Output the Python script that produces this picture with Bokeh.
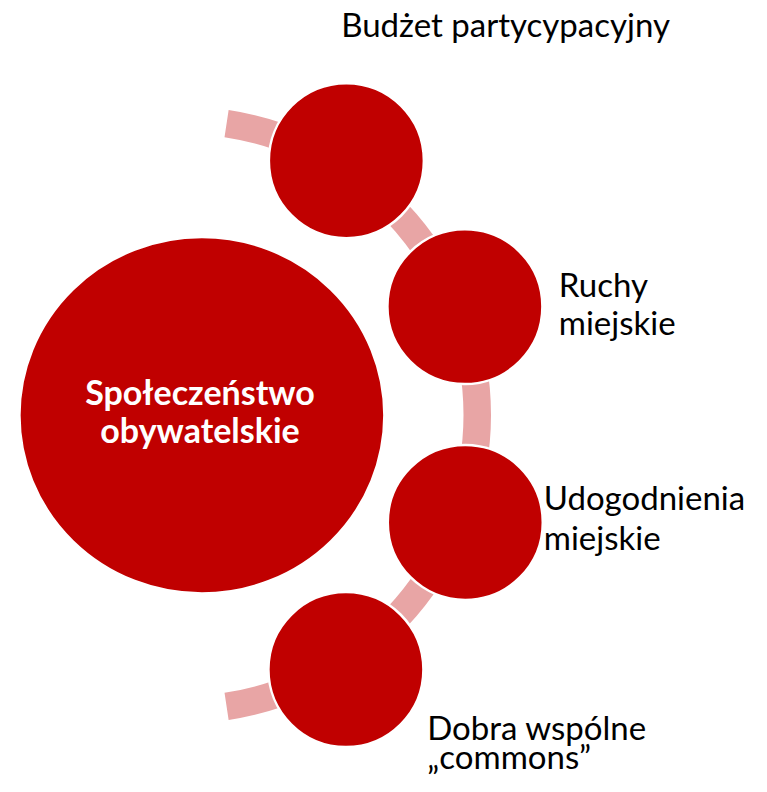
import numpy as np
from bokeh.plotting import figure
from bokeh.models import Range1d, ColumnDataSource
from bokeh.core.properties import value
from bokeh.embed import file_html
from bokeh.resources import INLINE

# ---------------- content ----------------
center_label = ["Społeczeństwo", "obywatelskie"]
item_labels = [
    ["Budżet partycypacyjny"],
    ["Ruchy", "miejskie"],
    ["Udogodnienia", "miejskie"],
    ["Dobra wspólne", "„commons”"],
]
item_angles = [57.2, 21.0, -20.8, -57.3]  # position of each item on the arc (deg)

# ---------------- layout (picture pixel geometry) ----------------
W, H = 751, 776
PAGE_H = 792
TEXT_SHIFT = 14.0  # rendered text sits lower than its anchor by about this much

def Y(py):
    return PAGE_H - py

arc_cx, arc_cy = 182.0, Y(414.5)
ring_r = 302.5
arc_inner, arc_outer = 281.0, 308.5
arc_extent = np.radians(81.4)
small_r = 77.5
big_cx, big_cy = 201.4, Y(414.8)
big_w, big_h = 365.0, 356.5

label_x = [340.7, 558.3, 543.3, 426.7]
label_base = [[37.3], [297.7, 335.0], [510.7, 550.0], [740.0, 769.0]]
center_base = [405.0, 442.7]
center_x = 199.5

RED = "#C00000"
PINK = "#E8A5A5"
FONT = "Lato"

p = figure(width=W, height=H, x_range=Range1d(0, W), y_range=Range1d(PAGE_H - H, PAGE_H),
           output_backend="svg", toolbar_location=None, x_axis_location=None, y_axis_location=None,
           min_border=0, background_fill_color="white", border_fill_color="white")
p.grid.visible = False
p.outline_line_color = None

# connecting arc
p.annular_wedge(x=arc_cx, y=arc_cy, inner_radius=arc_inner, outer_radius=arc_outer,
                start_angle=-arc_extent, end_angle=arc_extent,
                direction="anticlock", fill_color=PINK, line_color=None)

# big circle
p.ellipse(x=big_cx, y=big_cy, width=big_w, height=big_h, fill_color=RED,
          line_color="white", line_width=2.5)

# small circles on the arc
ang = np.radians(item_angles)
src = ColumnDataSource(dict(x=arc_cx + ring_r * np.cos(ang), y=arc_cy + ring_r * np.sin(ang)))
p.circle(x="x", y="y", radius=small_r, source=src, fill_color=RED, line_color="white", line_width=2.5)

# labels
tx, ty, tt = [], [], []
for lines, x0, bases in zip(item_labels, label_x, label_base):
    for line, b in zip(lines, bases):
        tx.append(x0); ty.append(Y(b - TEXT_SHIFT)); tt.append(line)
p.text(x=tx, y=ty, text=tt, text_font=value(FONT), text_font_size="33px",
       text_color="black", text_align="left", text_baseline="alphabetic")

p.text(x=[center_x] * 2, y=[Y(b - TEXT_SHIFT) for b in center_base], text=center_label,
       text_font=value(FONT), text_font_size="34px", text_font_style="bold", text_color="white",
       text_align="center", text_baseline="alphabetic")

open("out.html", "w").write(file_html(p, INLINE))
